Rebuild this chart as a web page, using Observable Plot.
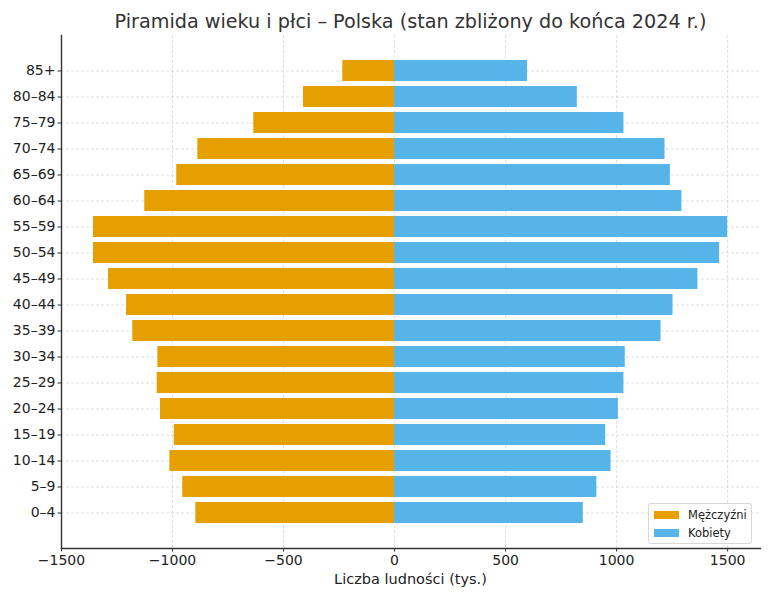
<!DOCTYPE html>
<html>
<head>
<meta charset="utf-8">
<script src="https://cdn.jsdelivr.net/npm/d3@7"></script>
<script src="https://cdn.jsdelivr.net/npm/@observablehq/plot@0.6"></script>
<style>
  html, body { margin: 0; padding: 0; background: #fff; }
  #wrap { position: relative; width: 771px; height: 600px; font-family: "DejaVu Sans", sans-serif; }
  #title { position: absolute; left: 61px; width: 699px; top: 9px; line-height: 26px; text-align: center; font-size: 19.2px; color: #333; }
  #chart { position: absolute; left: 0; top: 30px; }
  #xlabel { position: absolute; left: 61px; width: 699px; top: 569px; line-height: 20px; text-align: center; font-size: 14.5px; color: #222; }
  #legend { position: absolute; left: 648px; top: 503px; width: 104px; height: 41px; border: 1px solid #d8d8d8; border-radius: 3px; background: rgba(255,255,255,0.85); font-size: 11.5px; color: #222; box-sizing: border-box; }
  .row { position: absolute; left: 5px; height: 14px; line-height: 14px; }
  .sw { display: inline-block; width: 25px; height: 8px; vertical-align: middle; margin-right: 9px; position: relative; top: -1px; }
</style>
</head>
<body>
<div id="wrap">
  <div id="title">Piramida wieku i płci – Polska (stan zbliżony do końca 2024 r.)</div>
  <div id="chart"></div>
  <div id="xlabel">Liczba ludności (tys.)</div>
  <div id="legend">
    <div class="row" style="top:4px"><span class="sw" style="background:#E69F00"></span>Mężczyźni</div>
    <div class="row" style="top:22px"><span class="sw" style="background:#56B4E9"></span>Kobiety</div>
  </div>
</div>
<script>
const ageGroups = ["0–4","5–9","10–14","15–19","20–24","25–29","30–34","35–39","40–44","45–49","50–54","55–59","60–64","65–69","70–74","75–79","80–84","85+"];
const men   = [895, 954, 1012, 992, 1054, 1069, 1066, 1179, 1207, 1288, 1356, 1356, 1125, 981, 886, 634, 410, 233];
const women = [850, 911, 975, 951, 1008, 1033, 1039, 1200, 1254, 1366, 1464, 1500, 1294, 1242, 1218, 1033, 823, 599];
const xTicks = [-1500, -1000, -500, 0, 500, 1000, 1500];
const seriesNames = ["Mężczyźni", "Kobiety"];
const colors = ["#E69F00", "#56B4E9"];

const menRows = ageGroups.map((a, i) => ({age: a, value: -men[i], sex: seriesNames[0]}));
const womenRows = ageGroups.map((a, i) => ({age: a, value: women[i], sex: seriesNames[1]}));
const fmt = d => d < 0 ? "\u2212" + Math.abs(d) : String(d);

const chart = Plot.plot({
  width: 771,
  height: 570,
  marginTop: 5,
  marginBottom: 52,
  marginLeft: 61,
  marginRight: 11,
  style: {fontFamily: "DejaVu Sans, sans-serif", fontSize: "14px", color: "#222", background: "transparent"},
  x: {domain: [-1500, 1648], label: null},
  y: {domain: ageGroups.slice().reverse(), paddingInner: 0.2, paddingOuter: 0.89, label: null},
  marks: [
    Plot.ruleX(xTicks, {stroke: "#d6d6d6", strokeDasharray: "3,2", strokeWidth: 0.8}),
    Plot.ruleY(ageGroups, {y: d => d, stroke: "#d6d6d6", strokeDasharray: "3,2", strokeWidth: 0.8}),
    Plot.barX(menRows, {y: "age", x: "value", fill: colors[0]}),
    Plot.barX(womenRows, {y: "age", x: "value", fill: colors[1]}),
    Plot.axisX({ticks: xTicks, tickFormat: fmt, tickSize: 3.5, tickPadding: 3, fontSize: 14, label: null, stroke: "#333"}),
    Plot.axisY({tickSize: 3.5, tickPadding: 2.5, fontSize: 14, label: null, stroke: "#333"}),
    Plot.frame({anchor: "left", stroke: "#333", strokeWidth: 1.4}),
    Plot.frame({anchor: "bottom", stroke: "#333", strokeWidth: 1.4})
  ]
});
document.getElementById("chart").appendChild(chart);
</script>
</body>
</html>
